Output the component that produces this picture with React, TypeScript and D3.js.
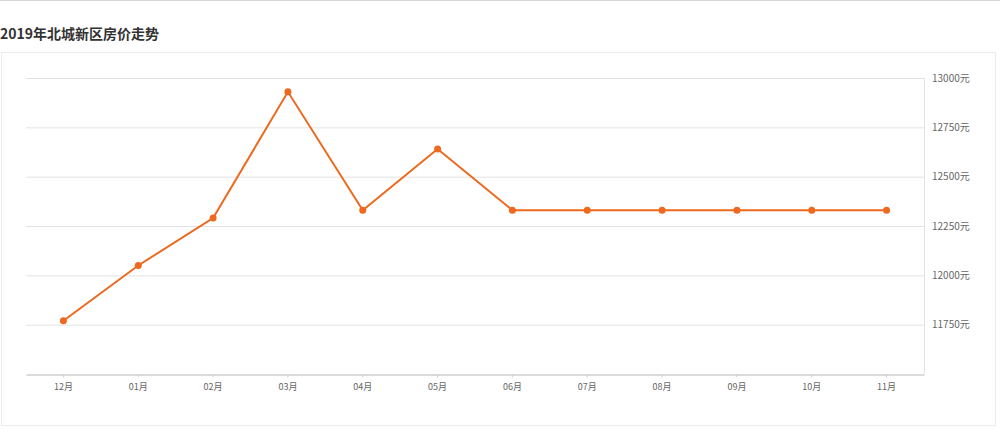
import React, { useEffect, useRef } from 'react';
import * as d3 from 'd3';

const months = ['12月', '01月', '02月', '03月', '04月', '05月', '06月', '07月', '08月', '09月', '10月', '11月'];
const prices = [11770, 12050, 12290, 12930, 12330, 12640, 12330, 12330, 12330, 12330, 12330, 12330];
const yTicks = [11750, 12000, 12250, 12500, 12750, 13000];

const LINE_COLOR = '#ec691f';

const App: React.FC = () => {
  const ref = useRef<SVGSVGElement | null>(null);

  useEffect(() => {
    if (!ref.current) return;
    const svg = d3.select(ref.current);
    svg.selectAll('*').remove();

    const width = 1000;
    const height = 429;
    const left = 26;
    const right = 924;
    const top = 78;
    const bottom = 374;
    const font = '"Microsoft YaHei", "Noto Sans CJK SC", sans-serif';

    // page frame
    svg.append('rect').attr('width', width).attr('height', height).attr('fill', '#fff');
    svg.append('line').attr('x1', 0).attr('x2', width).attr('y1', 0.5).attr('y2', 0.5)
      .attr('stroke', '#d8d8d8');
    svg.append('rect').attr('x', 1.5).attr('y', 52.5).attr('width', 994).attr('height', 373)
      .attr('fill', 'none').attr('stroke', '#ececec');

    svg.append('text')
      .attr('x', 0).attr('y', 39)
      .attr('font-family', font).attr('font-size', 14).attr('font-weight', 'bold')
      .attr('fill', '#333')
      .text('2019年北城新区房价走势');

    const x = d3.scaleBand().domain(months).range([left, right]);
    const y = d3.scaleLinear().domain([11500, 13000]).range([bottom, top]);

    // grid
    svg.append('g').selectAll('line').data(yTicks).enter().append('line')
      .attr('x1', left).attr('x2', right)
      .attr('y1', d => y(d) + 0.5).attr('y2', d => y(d) + 0.5)
      .attr('stroke', '#e3e3e3');

    // right axis line
    svg.append('line').attr('x1', right + 0.5).attr('x2', right + 0.5)
      .attr('y1', top).attr('y2', bottom).attr('stroke', '#e3e3e3');

    // y labels
    svg.append('g').selectAll('text').data(yTicks).enter().append('text')
      .attr('x', 932).attr('y', d => y(d)).attr('dy', '0.35em')
      .attr('font-family', font).attr('font-size', 10).attr('fill', '#666')
      .text(d => `${d}元`);

    // x axis
    const xAxis = svg.append('g')
      .attr('transform', `translate(0,${bottom + 0.5})`)
      .call(d3.axisBottom(x).tickSize(3).tickSizeOuter(0));
    xAxis.select('.domain').attr('stroke', '#cfcfcf').attr('stroke-width', 1.5);
    xAxis.selectAll('.tick line').attr('stroke', '#cfcfcf');
    xAxis.selectAll('.tick text')
      .attr('font-family', font).attr('font-size', 9).attr('fill', '#666').attr('y', 9);

    const cx = (d: string) => (x(d) ?? 0) + x.bandwidth() / 2;
    const pts = months.map((m, i) => ({ m, v: prices[i] }));

    const line = d3.line<{ m: string; v: number }>()
      .x(d => cx(d.m))
      .y(d => y(d.v));

    svg.append('path').datum(pts)
      .attr('d', line)
      .attr('fill', 'none')
      .attr('stroke', LINE_COLOR)
      .attr('stroke-width', 2);

    svg.append('g').selectAll('circle').data(pts).enter().append('circle')
      .attr('cx', d => cx(d.m)).attr('cy', d => y(d.v))
      .attr('r', 3.5).attr('fill', LINE_COLOR);
  }, []);

  return (
    <svg
      ref={ref}
      width={1000}
      height={429}
      style={{ position: 'absolute', left: 0, top: 0, display: 'block' }}
    />
  );
};

export default App;
